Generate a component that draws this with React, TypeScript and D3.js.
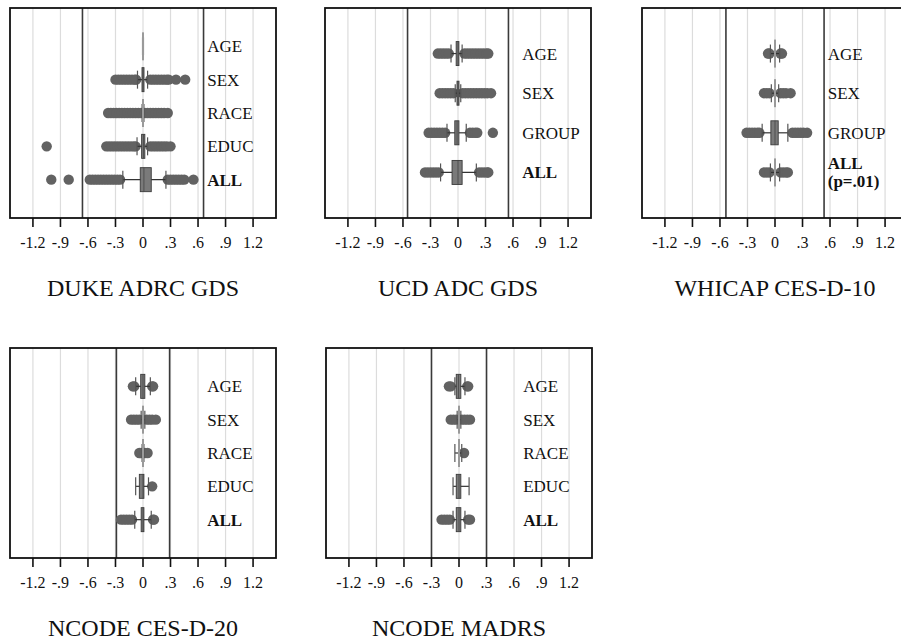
import React from 'react';
import * as d3 from 'd3';

// tick values and labels shared by every panel
const tickValues = [-1.2, -0.9, -0.6, -0.3, 0, 0.3, 0.6, 0.9, 1.2];
const tickLabels = ['-1.2', '-.9', '-.6', '-.3', '0', '.3', '.6', '.9', '1.2'];

// [whisker low, q1, median, q3, whisker high]
const dukeRows = ['AGE', 'SEX', 'RACE', 'EDUC', 'ALL'];
const dukeStats = [
  [-0.005, -0.003, 0, 0.003, 0.005],
  [-0.06, -0.01, 0, 0.01, 0.05],
  [-0.01, -0.005, 0, 0.005, 0.01],
  [-0.065, -0.015, 0.005, 0.02, 0.05],
  [-0.22, -0.03, 0.01, 0.09, 0.25],
];
const dukeOutliers = [
  [],
  [-0.3, -0.27, -0.24, -0.21, -0.18, -0.15, -0.12, -0.09, -0.075, 0.08, 0.11, 0.14, 0.17, 0.2, 0.23, 0.26, 0.28, 0.36, 0.46],
  [-0.38, -0.35, -0.32, -0.29, -0.26, -0.23, -0.2, -0.17, -0.14, -0.11, -0.08, -0.05, -0.02, 0.02, 0.05, 0.08, 0.11, 0.14, 0.17, 0.2, 0.23, 0.27],
  [-1.05, -0.4, -0.37, -0.34, -0.31, -0.28, -0.25, -0.22, -0.19, -0.16, -0.13, -0.1, -0.08, 0.08, 0.11, 0.14, 0.17, 0.2, 0.23, 0.26, 0.3],
  [-1.0, -0.81, -0.58, -0.55, -0.52, -0.49, -0.46, -0.43, -0.4, -0.37, -0.34, -0.31, -0.28, -0.25, 0.27, 0.3, 0.33, 0.36, 0.39, 0.42, 0.45, 0.55],
];

const ucdRows = ['AGE', 'SEX', 'GROUP', 'ALL'];
const ucdStats = [
  [-0.076, -0.02, 0, 0.01, 0.045],
  [-0.03, -0.01, 0, 0.01, 0.03],
  [-0.12, -0.035, -0.01, 0.01, 0.09],
  [-0.19, -0.065, 0, 0.045, 0.2],
];
const ucdOutliers = [
  [-0.22, -0.19, -0.16, -0.13, -0.1, 0.07, 0.1, 0.13, 0.16, 0.19, 0.22, 0.25, 0.28, 0.31, 0.33],
  [-0.2, -0.17, -0.14, -0.11, -0.08, -0.05, 0.05, 0.08, 0.11, 0.14, 0.17, 0.2, 0.23, 0.26, 0.29, 0.32, 0.36],
  [-0.32, -0.29, -0.26, -0.23, -0.2, -0.17, -0.14, 0.13, 0.16, 0.19, 0.21, 0.38],
  [-0.36, -0.33, -0.3, -0.27, -0.24, -0.21, 0.23, 0.26, 0.29, 0.32, 0.33],
];

const whicapRows = ['AGE', 'SEX', 'GROUP', 'ALL\n(p=.01)'];
const whicapStats = [
  [-0.05, -0.005, 0, 0.005, 0.05],
  [-0.04, -0.005, 0, 0.005, 0.04],
  [-0.14, -0.045, 0, 0.035, 0.14],
  [-0.05, -0.005, 0, 0.01, 0.05],
];
const whicapOutliers = [
  [-0.076, -0.06, 0.06, 0.076],
  [-0.12, -0.09, -0.06, 0.06, 0.09, 0.12, 0.17],
  [-0.31, -0.28, -0.25, -0.22, -0.19, -0.17, 0.19, 0.22, 0.25, 0.28, 0.31, 0.35],
  [-0.12, -0.09, -0.06, 0.06, 0.09, 0.12, 0.14],
];

const cesRows = ['AGE', 'SEX', 'RACE', 'EDUC', 'ALL'];
const cesStats = [
  [-0.08, -0.025, 0, 0.02, 0.08],
  [-0.02, -0.005, 0, 0.005, 0.02],
  [-0.01, -0.005, 0, 0.005, 0.01],
  [-0.08, -0.04, 0, 0.01, 0.06],
  [-0.09, -0.02, 0, 0.01, 0.09],
];
const cesOutliers = [
  [-0.11, -0.095, 0.1, 0.11],
  [-0.13, -0.1, -0.07, -0.04, 0.04, 0.07, 0.1, 0.14],
  [-0.04, -0.02, 0.02, 0.05],
  [0.1],
  [-0.24, -0.21, -0.18, -0.15, -0.12, 0.11, 0.12],
];

const madrsRows = ['AGE', 'SEX', 'RACE', 'EDUC', 'ALL'];
const madrsStats = [
  [-0.045, -0.03, -0.005, 0.02, 0.065],
  [-0.02, -0.005, 0, 0.005, 0.02],
  [-0.045, -0.003, 0, 0.003, 0.03],
  [-0.065, -0.03, 0, 0.02, 0.11],
  [-0.065, -0.03, 0, 0.02, 0.065],
];
const madrsOutliers = [
  [-0.11, -0.09, 0.09, 0.1],
  [-0.09, -0.06, -0.03, 0.03, 0.06, 0.09, 0.12],
  [0.055],
  [],
  [-0.19, -0.16, -0.13, -0.1, 0.1, 0.12],
];

const FONT = '"Liberation Serif", "Times New Roman", serif';
const W = 266;
const H = 210;

type PanelProps = {
  x0: number;
  y0: number;
  rows: string[];
  stats: number[][];
  outliers: number[][];
  cut: number;
  labelAt: number;
  title: string;
};

const Panel = ({ x0, y0, rows, stats, outliers, cut, labelAt, title }: PanelProps) => {
  const x = d3.scaleLinear().domain([-1.45, 1.45]).range([0, W]);
  const y = d3.scalePoint().domain(rows).range([0, H]).padding(1.15);
  const boxH = 24;
  const capH = 18;

  return (
    <g transform={`translate(${x0},${y0})`}>
      {tickValues.map(t => (
        <line key={'g' + t} x1={x(t)} x2={x(t)} y1={0} y2={H} stroke="#dcdcdc" strokeWidth={1.2} />
      ))}
      {[-cut, cut].map(c => (
        <line key={'c' + c} x1={x(c)} x2={x(c)} y1={0} y2={H} stroke="#3a3a3a" strokeWidth={1.6} />
      ))}
      {rows.map((r, i) => {
        const [lo, q1, med, q3, hi] = stats[i];
        const cy = y(r) as number;
        const thin = x(q3) - x(q1) < 1.5;
        const bx = Math.min(x(q1), x(med) - 1);
        const bw = Math.max(x(q3) - x(q1), 2);
        return (
          <g key={r}>
            {outliers[i].map((v, j) => (
              <circle key={j} cx={x(v)} cy={cy} r={5.2} fill="#626262" />
            ))}
            <line x1={x(lo)} x2={x(hi)} y1={cy} y2={cy} stroke="#333" strokeWidth={1.2} />
            <line x1={x(lo)} x2={x(lo)} y1={cy - capH / 2} y2={cy + capH / 2} stroke="#555" strokeWidth={1.2} />
            <line x1={x(hi)} x2={x(hi)} y1={cy - capH / 2} y2={cy + capH / 2} stroke="#555" strokeWidth={1.2} />
            <rect
              x={bx}
              y={cy - (thin ? 14 : boxH / 2)}
              width={bw}
              height={thin ? 28 : boxH}
              fill={thin ? '#9a9a9a' : '#7a7a7a'}
              stroke={thin ? 'none' : '#3a3a3a'}
              strokeWidth={0.9}
            />
            {!thin && (
              <line x1={x(med)} x2={x(med)} y1={cy - boxH / 2} y2={cy + boxH / 2} stroke="#444" strokeWidth={0.8} />
            )}
            <text
              x={x(labelAt)}
              y={cy}
              fontFamily={FONT}
              fontSize={17}
              fontWeight={r.startsWith('ALL') ? 'bold' : 'normal'}
              fill="#111"
            >
              {r.split('\n').map((line, k, arr) => (
                <tspan key={k} x={x(labelAt)} y={cy + 6 + (k - (arr.length - 1) / 2) * 18}>
                  {line}
                </tspan>
              ))}
            </text>
          </g>
        );
      })}
      <rect x={0} y={0} width={W} height={H} fill="none" stroke="#111" strokeWidth={1.8} />
      {tickValues.map((t, i) => (
        <g key={'t' + t}>
          <line x1={x(t)} x2={x(t)} y1={H} y2={H + 9} stroke="#111" strokeWidth={1.6} />
          <text x={x(t)} y={H + 30} textAnchor="middle" fontFamily={FONT} fontSize={16} fill="#111">
            {tickLabels[i]}
          </text>
        </g>
      ))}
      <text x={x(0)} y={H + 78} textAnchor="middle" fontFamily={FONT} fontSize={24} fill="#111">
        {title}
      </text>
    </g>
  );
};

export default function App() {
  return (
    <svg width={901} height={642} style={{ position: 'absolute', left: 0, top: 0, background: '#fff' }}>
      <rect width={901} height={642} fill="#fff" />
      <Panel x0={10} y0={8} rows={dukeRows} stats={dukeStats} outliers={dukeOutliers} cut={0.66} labelAt={0.7} title="DUKE ADRC GDS" />
      <Panel x0={325} y0={8} rows={ucdRows} stats={ucdStats} outliers={ucdOutliers} cut={0.55} labelAt={0.7} title="UCD ADC GDS" />
      <Panel x0={642} y0={8} rows={whicapRows} stats={whicapStats} outliers={whicapOutliers} cut={0.535} labelAt={0.575} title="WHICAP CES-D-10" />
      <Panel x0={10} y0={348} rows={cesRows} stats={cesStats} outliers={cesOutliers} cut={0.29} labelAt={0.7} title="NCODE CES-D-20" />
      <Panel x0={326} y0={348} rows={madrsRows} stats={madrsStats} outliers={madrsOutliers} cut={0.3} labelAt={0.7} title="NCODE MADRS" />
    </svg>
  );
}
